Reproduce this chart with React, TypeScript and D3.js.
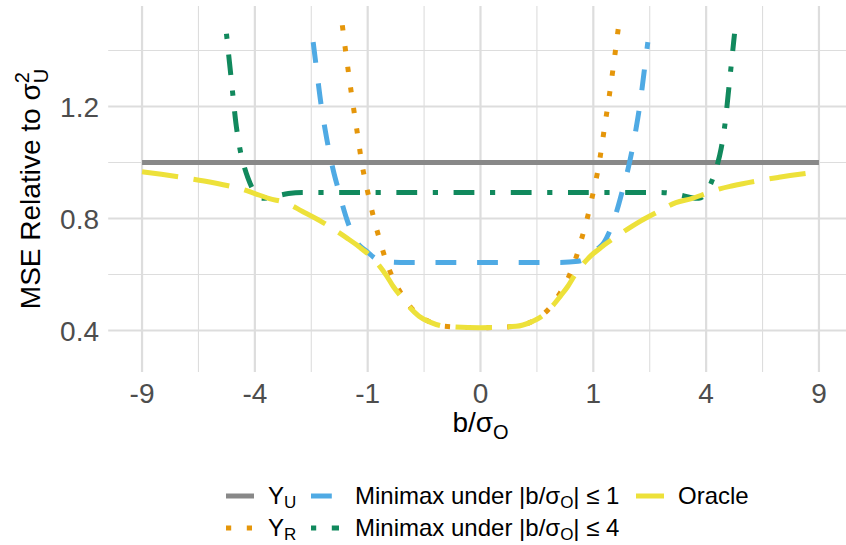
import React from 'react';
import * as d3 from 'd3';

// ---------- data ----------
const yuB = [-9, 9];
const yuMSE = [1, 1];

const yrB = [-1.5, -1.4, -1.3, -1.2, -1.1, -1, -0.9, -0.8, -0.7, -0.6, -0.5, -0.4, -0.3, -0.2, -0.1, 0,
  0.1, 0.2, 0.3, 0.4, 0.5, 0.6, 0.7, 0.8, 0.9, 1, 1.1, 1.2, 1.3, 1.4, 1.5];
const yrMSE = [1.49, 1.36, 1.235, 1.115, 0.99, 0.895, 0.805, 0.725, 0.648, 0.585, 0.535, 0.49, 0.455, 0.43, 0.415, 0.41,
  0.415, 0.43, 0.455, 0.49, 0.535, 0.585, 0.648, 0.725, 0.805, 0.895, 0.99, 1.115, 1.235, 1.36, 1.49];

const mm1B = [-2.2, -2.1, -2, -1.9, -1.8, -1.7, -1.6, -1.5, -1.4, -1.3, -1.2, -1.1, -1, -0.9, -0.75, -0.5, 0,
  0.5, 0.75, 0.9, 1, 1.1, 1.2, 1.3, 1.4, 1.5, 1.6, 1.7, 1.8, 1.9, 2, 2.1, 2.2];
const mm1MSE = [1.43, 1.32, 1.21, 1.12, 1.04, 0.97, 0.91, 0.85, 0.795, 0.75, 0.715, 0.695, 0.68, 0.662, 0.647, 0.643, 0.643,
  0.643, 0.647, 0.662, 0.68, 0.695, 0.715, 0.75, 0.795, 0.85, 0.91, 0.97, 1.04, 1.12, 1.21, 1.32, 1.43];

const mm4B = [-5.07, -5, -4.85, -4.7, -4.55, -4.4, -4.25, -4.1, -3.95, -3.75, -3.5, -3.2, -2.9, -2.5, 0,
  2.5, 2.9, 3.2, 3.5, 3.75, 3.95, 4.1, 4.25, 4.4, 4.55, 4.7, 4.85, 5, 5.07];
const mm4MSE = [1.46, 1.4, 1.27, 1.14, 1.05, 0.99, 0.945, 0.91, 0.885, 0.872, 0.874, 0.882, 0.889, 0.893, 0.893,
  0.893, 0.889, 0.882, 0.874, 0.872, 0.885, 0.91, 0.945, 0.99, 1.05, 1.14, 1.27, 1.4, 1.46];

const orB = [-9, -8, -7, -6, -5, -4.5, -4, -3.5, -3, -2.5, -2, -1.8, -1.6, -1.4, -1.2, -1.1, -1, -0.9, -0.8, -0.7, -0.6, -0.5, -0.4, -0.3, -0.2, -0.1, 0,
  0.1, 0.2, 0.3, 0.4, 0.5, 0.6, 0.7, 0.8, 0.9, 1, 1.1, 1.2, 1.4, 1.6, 1.8, 2, 2.5, 3, 3.5, 4, 4.5, 5, 6, 7, 8, 9];
const orMSE = [0.967, 0.958, 0.947, 0.934, 0.917, 0.906, 0.889, 0.871, 0.857, 0.826, 0.79, 0.772, 0.752, 0.73, 0.705, 0.69, 0.675, 0.655, 0.63, 0.598, 0.558, 0.522, 0.485, 0.452, 0.43, 0.415, 0.41,
  0.415, 0.43, 0.452, 0.485, 0.522, 0.558, 0.598, 0.63, 0.655, 0.675, 0.69, 0.705, 0.73, 0.752, 0.772, 0.79, 0.826, 0.857, 0.871, 0.889, 0.906, 0.917, 0.934, 0.947, 0.958, 0.967];

const xMajor = [-9, -4, -1, 0, 1, 4, 9];
const xMinor = [-6.25, -2.25, -0.25, 0.25, 2.25, 6.25];
const yMajor = [0.4, 0.8, 1.2];
const yMinor = [0.6, 1.0, 1.4];

// ---------- layout ----------
const W = 846, H = 545;
const P = { left: 108.2, right: 852.8, top: 6, bottom: 372 };
const FONT = "'Liberation Sans', Arial, Helvetica, sans-serif";
const U = 5.2;

const series = [
  { key: 'yu', b: yuB, v: yuMSE, color: '#888888', dash: 'none' },
  { key: 'yr', b: yrB, v: yrMSE, color: '#E5960A', dash: `${U} ${3 * U}` },
  { key: 'm1', b: mm1B, v: mm1MSE, color: '#4FAAE4', dash: `${4 * U} ${4 * U}` },
  { key: 'm4', b: mm4B, v: mm4MSE, color: '#11895D', dash: `${U} ${3 * U} ${4 * U} ${3 * U}` },
  { key: 'or', b: orB, v: orMSE, color: '#EDE13A', dash: `${7 * U} ${3 * U}` },
];

export default function App() {
  const x = d3.scalePow().exponent(0.5).domain([-10.89, 10.89]).range([P.left, P.right]);
  const y = d3.scaleLinear().domain([0.4, 1.2]).range([330.5, 106.5]);
  const line = d3.line<[number, number]>()
    .x(d => x(d[0]))
    .y(d => y(d[1]))
    .curve(d3.curveMonotoneX);

  const gridCol = '#DDDDDD';
  const tickCol = '#4D4D4D';

  const legendRows = [496, 528];
  const keyX = [226, 311, 636];
  const keyW = 28;
  const subSize = 17;
  const subShift = 4;
  const legendItems = [
    { s: series[0], col: 0, row: 0, label: <>Y<tspan dy={subShift} fontSize={subSize}>U</tspan></> },
    { s: series[1], col: 0, row: 1, label: <>Y<tspan dy={subShift} fontSize={subSize}>R</tspan></> },
    { s: series[2], col: 1, row: 0, label: <>Minimax under |b/σ<tspan dy={subShift} fontSize={subSize}>O</tspan><tspan dy={-subShift}>| ≤ 1</tspan></> },
    { s: series[3], col: 1, row: 1, label: <>Minimax under |b/σ<tspan dy={subShift} fontSize={subSize}>O</tspan><tspan dy={-subShift}>| ≤ 4</tspan></> },
    { s: series[4], col: 2, row: 0, label: <>Oracle</> },
  ];
  const labelX = [268, 355, 678];

  return (
    <svg width={W} height={H} style={{ position: 'absolute', left: 0, top: 0, background: '#fff' }}
      fontFamily={FONT}>
      <defs>
        <clipPath id="panel">
          <rect x={P.left} y={P.top} width={P.right - P.left} height={P.bottom - P.top} />
        </clipPath>
      </defs>
      {/* grid */}
      {yMinor.map(v => (
        <line key={'ym' + v} x1={P.left} x2={P.right} y1={y(v)} y2={y(v)} stroke={gridCol} strokeWidth={1.1} />
      ))}
      {xMinor.map(v => (
        <line key={'xm' + v} x1={x(v)} x2={x(v)} y1={P.top} y2={P.bottom} stroke={gridCol} strokeWidth={1.1} />
      ))}
      {yMajor.map(v => (
        <line key={'yM' + v} x1={P.left} x2={P.right} y1={y(v)} y2={y(v)} stroke={gridCol} strokeWidth={2.2} />
      ))}
      {xMajor.map(v => (
        <line key={'xM' + v} x1={x(v)} x2={x(v)} y1={P.top} y2={P.bottom} stroke={gridCol} strokeWidth={2.2} />
      ))}
      {/* series */}
      <g clipPath="url(#panel)">
        {series.map(s => (
          <path key={s.key}
            d={line(s.b.map((b, i) => [b, s.v[i]] as [number, number])) || ''}
            fill="none" stroke={s.color} strokeWidth={5}
            strokeDasharray={s.dash} strokeLinecap="butt" strokeLinejoin="round" />
        ))}
      </g>
      {/* y tick labels */}
      {yMajor.map(v => (
        <text key={'yl' + v} x={99} y={y(v) + 10} textAnchor="end" fontSize={28} fill={tickCol}>
          {v.toFixed(1)}
        </text>
      ))}
      {/* x tick labels */}
      {xMajor.map(v => (
        <text key={'xl' + v} x={x(v)} y={403} textAnchor="middle" fontSize={28} fill={tickCol}>
          {String(v)}
        </text>
      ))}
      {/* axis titles */}
      <text x={480.5} y={432} textAnchor="middle" fontSize={28} fill="#000">
        b/σ<tspan dy={7} fontSize={20}>O</tspan>
      </text>
      <text transform="translate(40,189) rotate(-90)" textAnchor="middle" fontSize={28} fill="#000">
        MSE Relative to σ<tspan dy={-11} fontSize={20}>2</tspan><tspan dx={-11.1} dy={19} fontSize={20}>U</tspan>
      </text>
      {/* legend */}
      {legendItems.map((it, i) => {
        const yy = legendRows[it.row];
        const x0 = keyX[it.col];
        return (
          <g key={'lg' + i}>
            <line x1={x0} x2={x0 + keyW} y1={yy} y2={yy} stroke={it.s.color} strokeWidth={5}
              strokeDasharray={it.s.dash} strokeLinecap="butt" />
            <text x={labelX[it.col]} y={yy + 8} fontSize={24} fill="#000">{it.label}</text>
          </g>
        );
      })}
    </svg>
  );
}
